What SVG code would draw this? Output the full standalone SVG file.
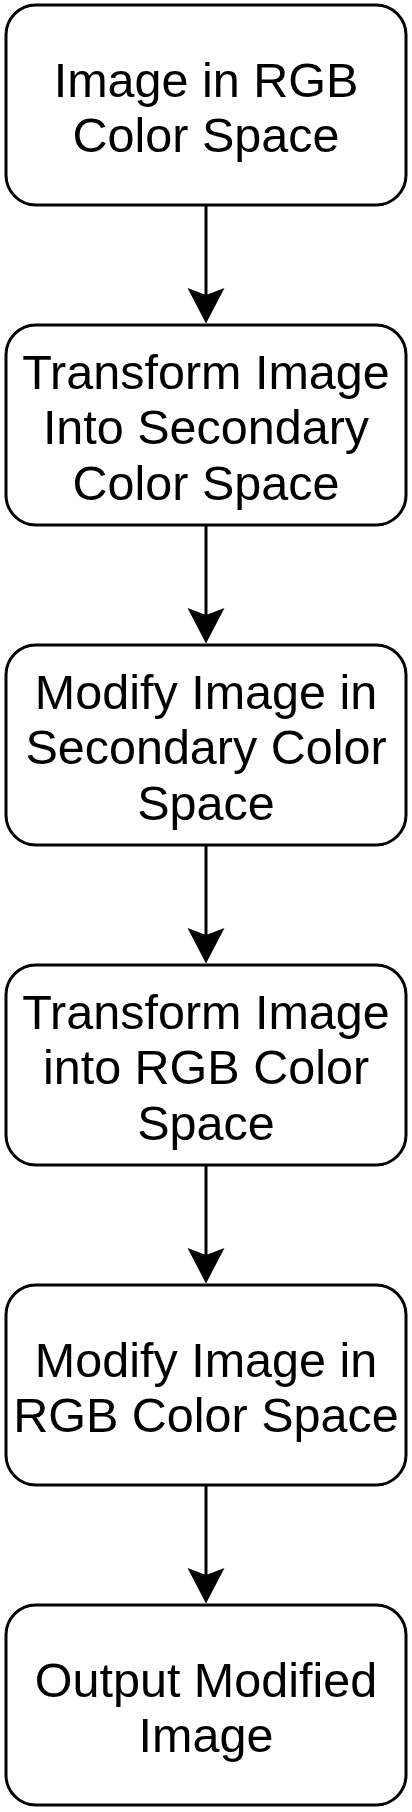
<svg xmlns="http://www.w3.org/2000/svg" width="412" height="1812" viewBox="0 0 412 1812">
<style>
.box{fill:#fff;stroke:#000;stroke-width:3}
.lbl{font-family:"Liberation Sans",Arial,sans-serif;font-size:48.5px;fill:#000;text-anchor:middle}
.edge{stroke:#000;stroke-width:3;fill:none}
</style>
<defs>
<marker id="arr" markerUnits="userSpaceOnUse" markerWidth="40" markerHeight="40" viewBox="0 -20 40 40" refX="7" refY="0" orient="auto">
<path d="M35.5,0 L0,-18.5 L7,0 L0,18.5 Z" fill="#000"/>
</marker>
</defs>
<rect width="412" height="1812" fill="#fff"/>
<g id="connectors">
<line class="edge" x1="206" y1="205" x2="206" y2="295" marker-end="url(#arr)"/>
<line class="edge" x1="206" y1="525" x2="206" y2="615" marker-end="url(#arr)"/>
<line class="edge" x1="206" y1="845" x2="206" y2="935" marker-end="url(#arr)"/>
<line class="edge" x1="206" y1="1165" x2="206" y2="1255" marker-end="url(#arr)"/>
<line class="edge" x1="206" y1="1485" x2="206" y2="1575" marker-end="url(#arr)"/>
</g>
<g id="n1">
<rect class="box" x="6" y="5" width="400" height="200" rx="30"/>
<text class="lbl" x="206"><tspan x="206" y="97">Image in RGB</tspan><tspan x="206" y="152">Color Space</tspan></text>
</g>
<g id="n2">
<rect class="box" x="6" y="325" width="400" height="200" rx="30"/>
<text class="lbl" x="206"><tspan x="206" y="388.5">Transform Image</tspan><tspan x="206" y="444">Into Secondary</tspan><tspan x="206" y="499.5">Color Space</tspan></text>
</g>
<g id="n3">
<rect class="box" x="6" y="645" width="400" height="200" rx="30"/>
<text class="lbl" x="206"><tspan x="206" y="708.5">Modify Image in</tspan><tspan x="206" y="764">Secondary Color</tspan><tspan x="206" y="819.5">Space</tspan></text>
</g>
<g id="n4">
<rect class="box" x="6" y="965" width="400" height="200" rx="30"/>
<text class="lbl" x="206"><tspan x="206" y="1028.5">Transform Image</tspan><tspan x="206" y="1084">into RGB Color</tspan><tspan x="206" y="1139.5">Space</tspan></text>
</g>
<g id="n5">
<rect class="box" x="6" y="1285" width="400" height="200" rx="30"/>
<text class="lbl" x="206"><tspan x="206" y="1377">Modify Image in</tspan><tspan x="206" y="1432">RGB Color Space</tspan></text>
</g>
<g id="n6">
<rect class="box" x="6" y="1605" width="400" height="200" rx="30"/>
<text class="lbl" x="206"><tspan x="206" y="1697">Output Modified</tspan><tspan x="206" y="1752">Image</tspan></text>
</g>
</svg>
